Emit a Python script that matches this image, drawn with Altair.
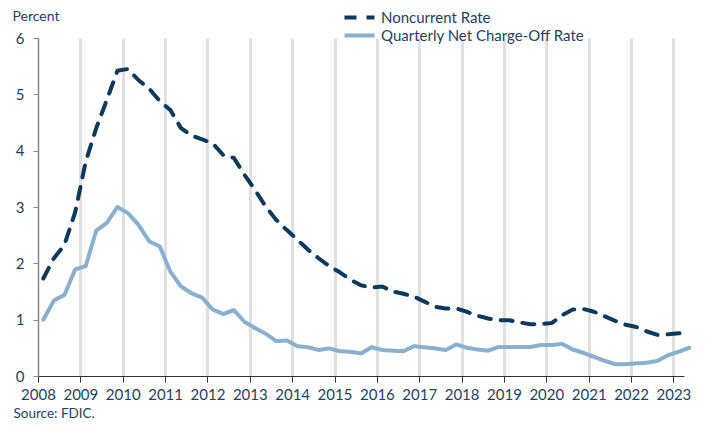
import altair as alt
import pandas as pd

# Quarterly data, 2008Q1 .. 2023Q2
years = list(range(2008, 2024))
quarters = [f"{y}Q{q}" for y in years for q in range(1, 5)][:62]

noncurrent = [1.73, 2.09, 2.33, 2.90, 3.80, 4.40, 4.90, 5.42, 5.45, 5.25, 5.10, 4.88,
              4.72, 4.40, 4.27, 4.20, 4.13, 3.92, 3.87, 3.57, 3.30, 3.01, 2.77, 2.59,
              2.42, 2.24, 2.09, 1.95, 1.84, 1.71, 1.61, 1.57, 1.59, 1.50, 1.46, 1.41,
              1.32, 1.23, 1.20, 1.20, 1.14, 1.07, 1.02, 0.99, 0.99, 0.95, 0.92, 0.92,
              0.94, 1.08, 1.18, 1.19, 1.14, 1.06, 0.98, 0.91, 0.87, 0.79, 0.73, 0.74,
              0.76, 0.76]
chargeoff = [1.00, 1.34, 1.44, 1.89, 1.95, 2.58, 2.72, 3.00, 2.89, 2.68, 2.39, 2.30,
             1.85, 1.59, 1.47, 1.39, 1.18, 1.10, 1.17, 0.96, 0.85, 0.75, 0.62, 0.63,
             0.53, 0.51, 0.46, 0.49, 0.44, 0.43, 0.40, 0.51, 0.46, 0.45, 0.44, 0.53,
             0.51, 0.49, 0.46, 0.56, 0.50, 0.47, 0.45, 0.515, 0.515, 0.515, 0.515, 0.55,
             0.55, 0.57, 0.47, 0.41, 0.34, 0.27, 0.21, 0.21, 0.225, 0.235, 0.27, 0.37,
             0.43, 0.50]

series_names = ["Noncurrent Rate", "Quarterly Net Charge-Off Rate"]
year_ticks = list(range(2008, 2024))

DARK = "#0b3a5c"
LIGHT = "#8ab0d0"
TEXT = "#253f63"
FONT = "Lato"


def qpos(label):
    y, q = label.split("Q")
    return int(y) + (int(q) - 1) / 4 + 0.125


rows = []
for name, vals in zip(series_names, [noncurrent, chargeoff]):
    for lab, v in zip(quarters, vals):
        rows.append({"quarter": lab, "t": qpos(lab), "value": v, "series": name})
df = pd.DataFrame(rows)

legend_kw = dict(title=None, orient="none", legendX=312, legendY=-30,
                 symbolType="M-2,0H2", symbolSize=225,
                 symbolStrokeWidth=4, labelOffset=12, labelLimit=400,
                 labelFontSize=15, labelColor=TEXT, labelFont=FONT,
                 rowPadding=-6, padding=0)

chart = alt.Chart(df).mark_line(strokeWidth=4, strokeCap="round", strokeJoin="round").encode(
    x=alt.X("t:Q",
            scale=alt.Scale(domain=[2008, 2023.25], nice=False, zero=False),
            axis=alt.Axis(values=year_ticks, format="d", grid=True,
                          gridColor="#e0e0e0", gridWidth=3,
                          labelOverlap=False, labelFlush=False,
                          domainColor="#333333", tickColor="#333333", tickSize=6,
                          labelPadding=5, labelFontSize=15, labelColor=TEXT, labelFont=FONT,
                          title="Source: FDIC.", titleX=-25, titleY=37.5,
                          titleAlign="left", titleAnchor="start", titleBaseline="middle",
                          titleFontSize=13.5, titleFontWeight="normal", titleColor=TEXT,
                          titleFont=FONT)),
    y=alt.Y("value:Q",
            scale=alt.Scale(domain=[0, 6], nice=False),
            axis=alt.Axis(values=[0, 1, 2, 3, 4, 5, 6], grid=False, labelFlush=False,
                          domainColor="#888888", tickColor="#888888", tickSize=5,
                          labelPadding=9, labelFontSize=15, labelColor=TEXT, labelFont=FONT,
                          title="Percent", titleAngle=0, titleX=-26, titleY=-22,
                          titleAlign="left", titleBaseline="middle",
                          titleFontSize=14, titleFontWeight="normal", titleColor=TEXT,
                          titleFont=FONT)),
    color=alt.Color("series:N",
                    scale=alt.Scale(domain=series_names, range=[DARK, LIGHT]),
                    legend=alt.Legend(**legend_kw)),
    strokeDash=alt.StrokeDash("series:N",
                              scale=alt.Scale(domain=series_names, range=[[12, 10], [1, 0]]),
                              legend=alt.Legend(**legend_kw)),
    order=alt.Order("t:Q"),
).properties(
    width=646,
    height=338,
    autosize=alt.AutoSizeParams(type="none"),
    padding={"left": 30, "top": 30, "right": 15, "bottom": 45},
).configure_view(stroke=None)

chart.save("out.html", embed_options={"renderer": "svg", "actions": False})
